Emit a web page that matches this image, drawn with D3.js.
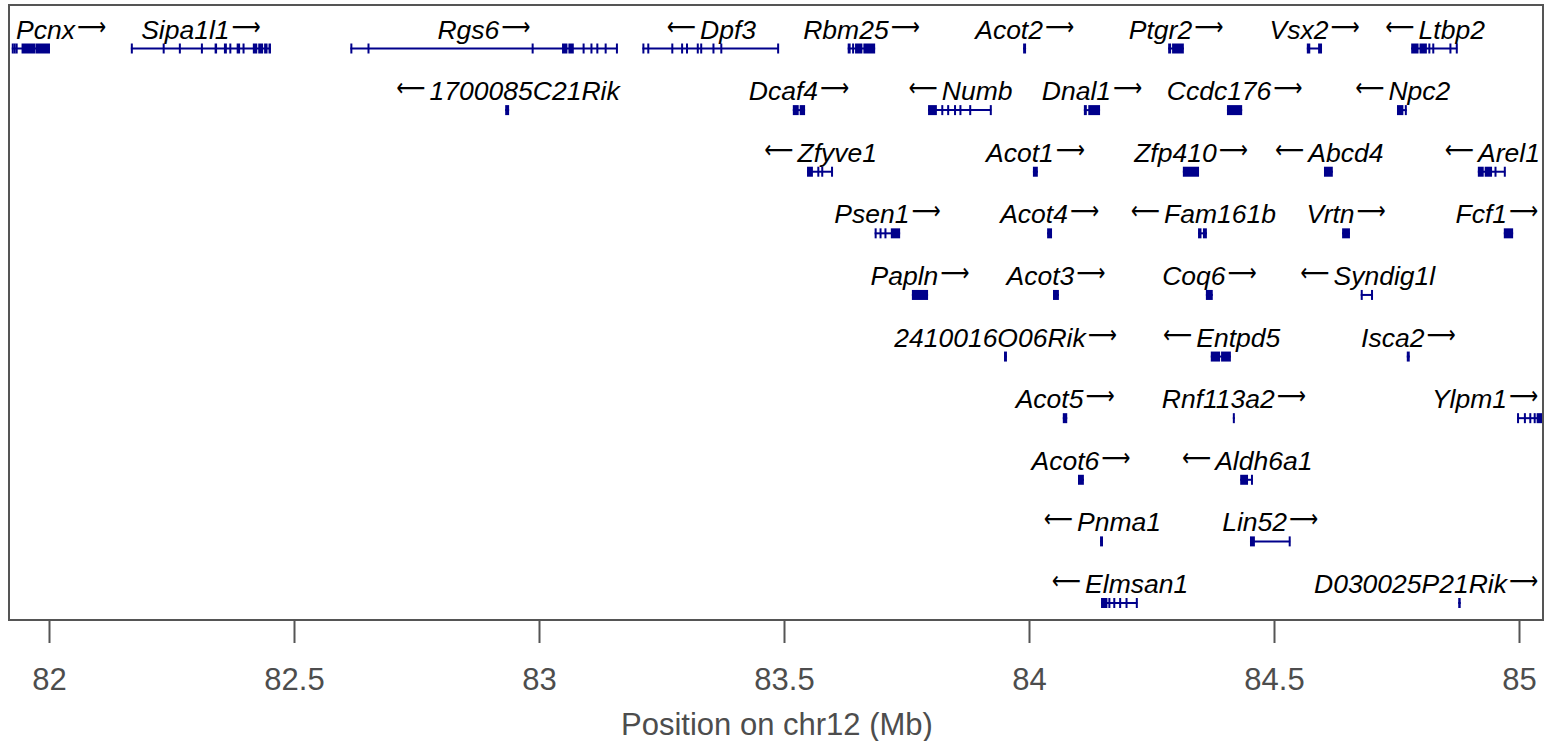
<!DOCTYPE html>
<html>
<head>
<meta charset="utf-8">
<script src="https://cdn.jsdelivr.net/npm/d3@7"></script>
<style>
  body { margin: 0; background: #fff; }
  svg { display: block; }
</style>
</head>
<body>
<svg id="chart" width="1545" height="741"></svg>
<script>
// genes on chr12, positions in Mb
var geneNames = ["Pcnx", "Sipa1l1", "Rgs6", "Dpf3", "Rbm25", "Acot2", "Ptgr2", "Vsx2", "Ltbp2",
    "1700085C21Rik", "Dcaf4", "Numb", "Dnal1", "Ccdc176", "Npc2",
    "Zfyve1", "Acot1", "Zfp410", "Abcd4", "Arel1",
    "Psen1", "Acot4", "Fam161b", "Vrtn", "Fcf1",
    "Papln", "Acot3", "Coq6", "Syndig1l",
    "2410016O06Rik", "Entpd5", "Isca2",
    "Acot5", "Rnf113a2", "Ylpm1",
    "Acot6", "Aldh6a1",
    "Pnma1", "Lin52",
    "Elmsan1", "D030025P21Rik"];

var geneRows = [0, 0, 0, 0, 0, 0, 0, 0, 0,
    1, 1, 1, 1, 1, 1,
    2, 2, 2, 2, 2,
    3, 3, 3, 3, 3,
    4, 4, 4, 4,
    5, 5, 5,
    6, 6, 6,
    7, 7,
    8, 8,
    9, 9];

var geneStrands = ["+", "+", "+", "-", "+", "+", "+", "+", "-",
    "-", "+", "-", "+", "+", "-",
    "-", "+", "+", "-", "-",
    "+", "+", "-", "+", "+",
    "+", "+", "+", "-",
    "+", "-", "+",
    "+", "+", "+",
    "+", "-",
    "-", "+",
    "-", "+"];

var geneExons = [
    [[81.924, 81.926], [81.928, 81.930], [81.932, 81.934], [81.944, 81.972], [81.9725, 82.002]],
    [[82.167, 82.170], [82.232, 82.235], [82.265, 82.268], [82.310, 82.313], [82.338, 82.343], [82.357, 82.363], [82.368, 82.371], [82.383, 82.390], [82.395, 82.398], [82.416, 82.425], [82.427, 82.437], [82.439, 82.446], [82.448, 82.453]],
    [[82.615, 82.618], [82.650, 82.653], [82.985, 82.988], [83.047, 83.058], [83.060, 83.071], [83.089, 83.092], [83.105, 83.108], [83.117, 83.120], [83.134, 83.137], [83.157, 83.160]],
    [[83.211, 83.214], [83.221, 83.224], [83.270, 83.274], [83.290, 83.294], [83.300, 83.304], [83.322, 83.326], [83.329, 83.333], [83.354, 83.357], [83.370, 83.374], [83.486, 83.489]],
    [[83.630, 83.636], [83.639, 83.642], [83.645, 83.660], [83.662, 83.686]],
    [[83.988, 83.994]],
    [[84.284, 84.290], [84.292, 84.316]],
    [[84.567, 84.574], [84.590, 84.598]],
    [[84.780, 84.795], [84.797, 84.812], [84.815, 84.819], [84.823, 84.826], [84.858, 84.861], [84.871, 84.874]],

    [[82.931, 82.939]],
    [[83.518, 83.530], [83.532, 83.543]],
    [[83.794, 83.812], [83.821, 83.824], [83.833, 83.836], [83.847, 83.850], [83.858, 83.861], [83.878, 83.881], [83.920, 83.923]],
    [[84.112, 84.118], [84.121, 84.145]],
    [[84.404, 84.435]],
    [[84.751, 84.764], [84.767, 84.771]],

    [[83.547, 83.559], [83.568, 83.571], [83.576, 83.579], [83.596, 83.599]],
    [[84.008, 84.018]],
    [[84.314, 84.347]],
    [[84.602, 84.620]],
    [[84.916, 84.928], [84.930, 84.945], [84.950, 84.953], [84.969, 84.972]],

    [[83.685, 83.688], [83.695, 83.698], [83.705, 83.708], [83.718, 83.737]],
    [[84.037, 84.047]],
    [[84.345, 84.352], [84.355, 84.363]],
    [[84.639, 84.655]],
    [[84.969, 84.988]],

    [[83.761, 83.794]],
    [[84.049, 84.061]],
    [[84.361, 84.375]],
    [[84.677, 84.681], [84.698, 84.702]],

    [[83.949, 83.955]],
    [[84.371, 84.390], [84.392, 84.412]],
    [[84.771, 84.777]],

    [[84.069, 84.078]],
    [[84.416, 84.420]],
    [[84.996, 84.999], [85.010, 85.013], [85.021, 85.024], [85.030, 85.034], [85.036, 85.060]],

    [[84.100, 84.112]],
    [[84.431, 84.447], [84.453, 84.456]],

    [[84.145, 84.151]],
    [[84.451, 84.461], [84.530, 84.533]],

    [[84.147, 84.160], [84.162, 84.166], [84.172, 84.175], [84.184, 84.187], [84.197, 84.200], [84.218, 84.221]],
    [[84.876, 84.881]]
];

var tickValues = [82, 82.5, 83, 83.5, 84, 84.5, 85];
var tickLabels = ["82", "82.5", "83", "83.5", "84", "84.5", "85"];
var xTitle = "Position on chr12 (Mb)";

var svg = d3.select("#chart");
var box = {left: 9, top: 5, right: 1543, bottom: 620};

var x = d3.scaleLinear().domain([82, 85]).range([49, 1519]);
var y = d3.scaleLinear().domain([0, 9]).range([48.5, 603]);

svg.append("rect").attr("width", 1545).attr("height", 741).attr("fill", "#fff");

svg.append("clipPath").attr("id", "clip")
    .append("rect")
    .attr("x", box.left).attr("y", box.top)
    .attr("width", box.right - box.left).attr("height", box.bottom - box.top);

var genes = geneNames.map(function(name, i) {
    var ex = geneExons[i];
    return {
        name: name,
        row: geneRows[i],
        strand: geneStrands[i],
        exons: ex,
        start: d3.min(ex, function(e) { return e[0]; }),
        end: d3.max(ex, function(e) { return e[1]; })
    };
});

var col = "#00008b";
var plot = svg.append("g").attr("clip-path", "url(#clip)");

var g = plot.selectAll("g.gene").data(genes).enter().append("g").attr("class", "gene");

// intron line
g.append("line")
    .attr("x1", function(d) { return x(d.start); })
    .attr("x2", function(d) { return x(d.end); })
    .attr("y1", function(d) { return y(d.row); })
    .attr("y2", function(d) { return y(d.row); })
    .attr("stroke", col)
    .attr("stroke-width", 2);

// exons
g.selectAll("rect").data(function(d) {
        return d.exons.map(function(e) { return {s: e[0], e: e[1], row: d.row}; });
    })
    .enter().append("rect")
    .attr("x", function(d) { return x(d.s); })
    .attr("width", function(d) { return Math.max(2, x(d.e) - x(d.s)); })
    .attr("y", function(d) { return y(d.row) - 5; })
    .attr("height", 10)
    .attr("fill", col);

// labels: name plus strand arrow, centred over gene, kept inside the box
var arrowW = 29, gap = 2;
var labels = svg.append("g");
genes.forEach(function(d) {
    var lab = labels.append("g");
    var name = lab.append("text")
        .attr("font-family", "'Liberation Sans', Arial, sans-serif")
        .attr("font-style", "italic")
        .attr("font-size", 26.5)
        .attr("fill", "#000")
        .text(d.name);
    var nw = name.node().getComputedTextLength();
    var W = nw + gap + arrowW;
    var mid = (x(d.start) + x(d.end)) / 2;
    var left = mid - W / 2;
    left = Math.max(box.left + 7, Math.min(left, box.right - 5 - W));
    var base = y(d.row) - 10;
    var nameX = d.strand == "+" ? left : left + arrowW + gap + 2;
    var arrX = d.strand == "+" ? left + nw + gap : left;
    name.attr("x", nameX).attr("y", base);
    lab.append("text")
        .attr("font-family", "'DejaVu Sans', sans-serif")
        .attr("font-size", 25)
        .attr("x", arrX).attr("y", base - 4)
        .attr("textLength", arrowW)
        .attr("lengthAdjust", "spacingAndGlyphs")
        .attr("fill", "#000")
        .text(d.strand == "+" ? "\u27f6" : "\u27f5");
});

// frame
svg.append("rect")
    .attr("x", box.left).attr("y", box.top)
    .attr("width", box.right - box.left).attr("height", box.bottom - box.top)
    .attr("fill", "none")
    .attr("stroke", "#555")
    .attr("stroke-width", 2);

// x axis
var axis = svg.append("g")
    .attr("transform", "translate(0," + box.bottom + ")")
    .call(d3.axisBottom(x)
        .tickValues(tickValues)
        .tickSize(23)
        .tickFormat(function(d, i) { return tickLabels[i]; }));
axis.select(".domain").remove();
axis.selectAll(".tick line").attr("stroke", "#555").attr("stroke-width", 2);
axis.selectAll(".tick text")
    .attr("y", 70).attr("dy", 0)
    .attr("font-family", "'Liberation Sans', Arial, sans-serif")
    .attr("font-size", 31)
    .attr("fill", "#4d4d4d");

svg.append("text")
    .attr("x", 777).attr("y", 735)
    .attr("text-anchor", "middle")
    .attr("font-family", "'Liberation Sans', Arial, sans-serif")
    .attr("font-size", 31)
    .attr("fill", "#4d4d4d")
    .text(xTitle);
</script>
</body>
</html>
